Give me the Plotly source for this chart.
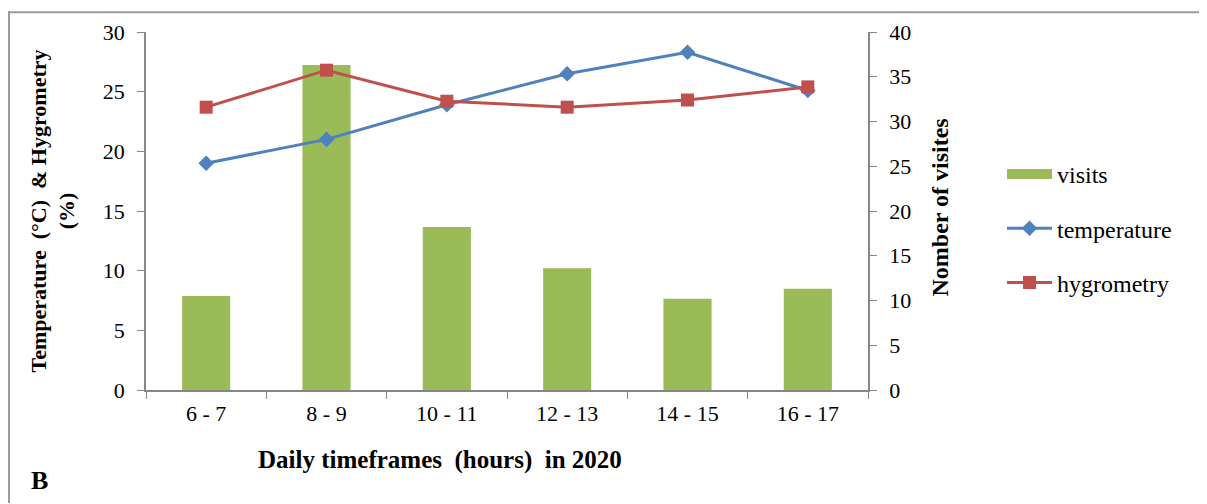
import plotly.graph_objects as go

categories = ["6 - 7", "8 - 9", "10 - 11", "12 - 13", "14 - 15", "16 - 17"]
visits = [10.5, 36.3, 18.2, 13.6, 10.2, 11.3]
temperature = [19.0, 21.0, 23.9, 26.5, 28.3, 25.1]
hygrometry = [23.7, 26.8, 24.2, 23.7, 24.3, 25.4]
left_ticks = [0, 5, 10, 15, 20, 25, 30]
right_ticks = [0, 5, 10, 15, 20, 25, 30, 35, 40]

OFF = 8  # page body margin
W, H = 1207 - OFF, 504 - OFF
L, R, T, B = 146, 868, 29, 390  # page coordinates of the plot area
FONT = "Liberation Serif"
AXC = "#868686"
GREEN, BLUE, RED = "#9BBB59", "#4F81BD", "#C0504D"

def px(x):
    return (x - L) / (R - L)

def py(y):
    return (B - y) / (B - T)

fig = go.Figure()
fig.add_trace(go.Bar(x=categories, y=visits, name="visits", width=0.4,
                     marker=dict(color=GREEN, line=dict(width=0)),
                     yaxis="y", showlegend=False))
# legend entry for the bars, drawn as a wide green block like the reference
fig.add_trace(go.Scatter(x=[None], y=[None], name="visits", mode="lines",
                         line=dict(color=GREEN, width=13), yaxis="y",
                         legendgroup="a"))
fig.add_trace(go.Scatter(x=categories, y=temperature, name="temperature",
                         mode="lines+markers", yaxis="y2", legendgroup="b",
                         line=dict(color=BLUE, width=3),
                         marker=dict(symbol="diamond", size=12, color=BLUE)))
fig.add_trace(go.Scatter(x=categories, y=hygrometry, name="hygrometry",
                         mode="lines+markers", yaxis="y2", legendgroup="c",
                         line=dict(color=RED, width=3),
                         marker=dict(symbol="square", size=13, color=RED)))

fig.update_layout(
    width=W, height=H,
    margin=dict(l=L - OFF, r=1207 - R, t=T - OFF, b=504 - B, pad=0),
    paper_bgcolor="white", plot_bgcolor="white",
    font=dict(family=FONT, size=20, color="black"),
    xaxis=dict(type="category", showline=True, linecolor=AXC, linewidth=1.5,
               ticks="outside", tickson="boundaries", ticklen=7, tickcolor=AXC,
               tickfont=dict(size=22), showgrid=False, zeroline=False,
               ticklabelstandoff=3),
    yaxis=dict(side="right", range=[0, 40], tickvals=right_ticks, showline=True,
               linecolor=AXC, linewidth=1.5, ticks="outside", ticklen=7, tickcolor=AXC,
               tickfont=dict(size=22), showgrid=False, zeroline=False,
               ticklabelstandoff=8),
    yaxis2=dict(side="left", overlaying="y", range=[0, 30], tickvals=left_ticks,
                showline=True, linecolor=AXC, linewidth=1.5, ticks="outside",
                ticklen=7, tickcolor=AXC, tickfont=dict(size=22), showgrid=False,
                zeroline=False, ticklabelstandoff=8),
    legend=dict(x=px(1002), y=py(150), xanchor="left", yanchor="top",
                font=dict(size=24), tracegroupgap=20, bgcolor="rgba(0,0,0,0)",
                itemwidth=45),
    showlegend=True,
)

annotations = [
    dict(text="<b>Temperature  (°C)  & Hygrometry<br>(%)</b>", x=px(53), y=py(210),
         textangle=-90, font=dict(size=22)),
    dict(text="<b>Nomber of visites</b>", x=px(940), y=py(206), textangle=-90,
         font=dict(size=24)),
    dict(text="<b>Daily timeframes  (hours)  in 2020</b>", x=px(440), y=py(461),
         font=dict(size=25)),
    dict(text="<b>B</b>", x=px(40), y=py(481), font=dict(size=26)),
]
for a in annotations:
    a.update(xref="paper", yref="paper", showarrow=False, xanchor="center", yanchor="middle")
fig.update_layout(annotations=annotations)

fig.add_shape(type="line", xref="paper", yref="paper", x0=px(8), x1=px(1207),
              y0=py(9), y1=py(9), line=dict(color="#9a9a9a", width=2))
fig.add_shape(type="line", xref="paper", yref="paper", x0=px(9), x1=px(9),
              y0=py(8), y1=py(504), line=dict(color="#9a9a9a", width=2))

fig.write_html("out.html")
